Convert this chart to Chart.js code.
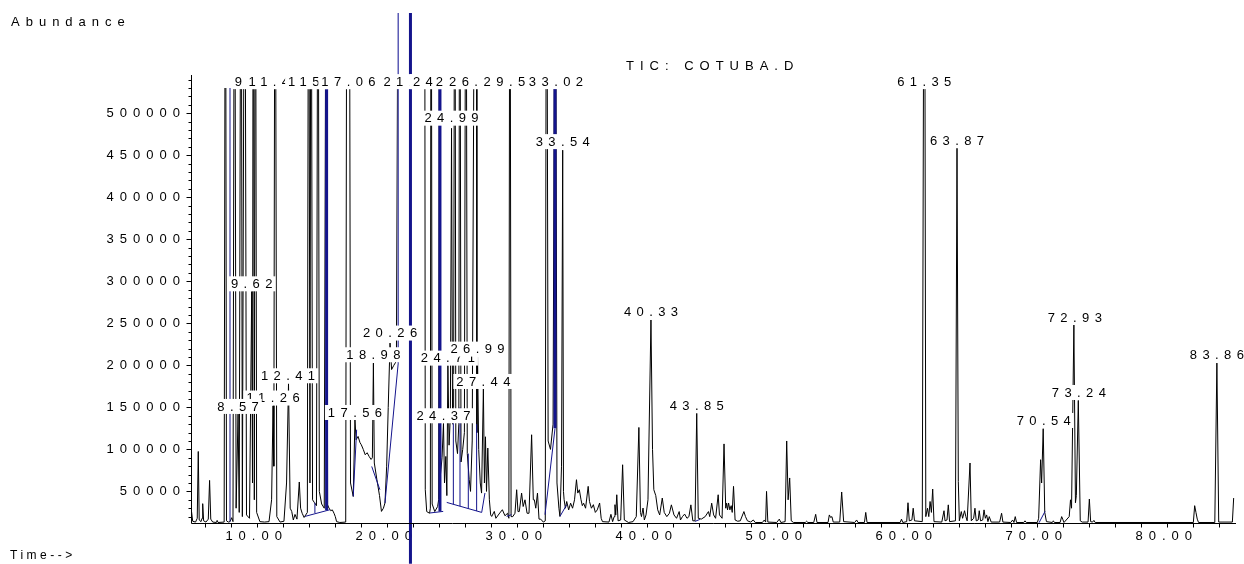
<!DOCTYPE html>
<html>
<head>
<meta charset="utf-8">
<script src="https://cdn.jsdelivr.net/npm/chart.js@4.4.1/dist/chart.umd.min.js"></script>
<style>
  html, body { margin: 0; padding: 0; background: #fff; }
</style>
</head>
<body>
<canvas id="tic" width="1244" height="564"></canvas>
<script>
// TIC trace: [retention time (min), abundance]; off-scale peaks given a rough guess
const ticTrace = [
  [4.95,20000],[4.99,26000],[5.08,14500],[5.3,13500],[5.43,18000],[5.51,97500],[5.58,16000],[5.72,14000],
  [5.8,18000],[5.85,35400],[5.92,15000],[6.1,13500],[6.28,17000],[6.38,63100],[6.47,17000],[6.62,13500],
  [6.9,13000],[6.96,15500],[7.03,13000],[7.5,13500],
  [7.6,900000],[7.68,15000],[7.82,13500],[7.95,14000],[8.08,18700],[8.18,14000],[8.3,900000],[8.42,30000],
  [8.57,142000],[8.66,25000],[8.8,900000],[8.9,20000],[9.08,900000],[9.22,22000],[9.45,18000],[9.62,288000],
  [9.68,60000],[9.74,900000],[9.82,40000],[9.9,900000],[10.0,25000],[10.25,14000],[10.6,13500],[10.95,14000],
  [11.15,40000],[11.26,152000],[11.32,80000],[11.42,900000],[11.55,20000],[11.8,13500],[12.1,14500],[12.3,60000],
  [12.45,178000],[12.58,30000],[12.7,26000],[12.82,16000],[12.95,22600],[13.1,17000],[13.28,61200],[13.38,30000],
  [13.5,24000],[13.65,19000],[13.9,25000],[14.0,900000],[14.1,60000],[14.18,900000],[14.3,40000],[14.45,36500],
  [14.6,33000],[14.72,900000],[14.82,50000],[15.0,35000],[15.2,30000],[15.36,900000],[15.46,34000],[15.56,30200],
  [15.7,27000],[15.82,28000],[15.95,24000],[16.05,20000],[16.15,14000],[16.4,13000],[16.85,13500],
  [16.95,900000],[17.12,900000],[17.22,60000],[17.43,44000],[17.56,135200],[17.65,111500],[17.8,115400],
  [17.95,108000],[18.05,105500],[18.2,100000],[18.35,93600],[18.5,96000],[18.65,91600],[18.8,88000],[18.9,90000],
  [18.98,202700],[19.05,83800],[19.25,63900],[19.45,45000],[19.6,26200],[19.75,30000],[19.87,36200],[20.0,80000],
  [20.12,150000],[20.26,226500],[20.38,195000],[20.55,200000],[20.75,205000],[20.92,900000],[21.5,1500000],
  [22.5,1200000],[22.92,900000],[22.97,52000],[23.08,26000],[23.3,24000],
  [23.36,30000],[23.42,900000],[23.5,35000],[23.7,26000],[23.92,32000],[24.0,40000],[24.06,900000],[24.14,70000],
  [24.26,90000],[24.37,131000],[24.45,60000],[24.55,91600],[24.63,45000],[24.71,200000],[24.8,105000],[24.9,140000],
  [24.99,482000],[25.07,130000],[25.15,150000],[25.24,900000],[25.32,110000],[25.45,95000],[25.55,130000],
  [25.62,900000],[25.72,85000],[25.85,100000],[25.98,120000],[26.1,900000],[26.2,95000],[26.35,64000],[26.45,50000],
  [26.58,110000],[26.8,900000],[26.9,900000],[26.94,120000],[26.99,210000],[27.08,100000],[27.2,60000],[27.3,48000],
  [27.44,172000],[27.52,60000],[27.6,115000],[27.68,50000],[27.78,101600],[27.9,40000],[28.0,22000],[28.08,20200],
  [28.28,26200],[28.4,18000],[28.7,24300],[28.9,28200],[29.1,21000],[29.3,24000],[29.4,18000],[29.48,900000],
  [29.57,20000],[29.7,20000],[29.87,24000],[30.0,52000],[30.1,26000],[30.2,26000],[30.38,48000],[30.5,32000],
  [30.64,40000],[30.8,24000],[30.95,24000],[31.15,117400],[31.28,40000],[31.36,40000],[31.47,30000],[31.6,48000],
  [31.72,17000],[31.85,17000],[32.05,13500],[32.2,15000],[32.3,900000],[32.42,110000],[32.6,100000],[32.8,130000],
  [32.97,900000],[33.1,60000],[33.25,30000],[33.33,20250],[33.45,80000],[33.54,456000],[33.6,50000],[33.65,40100],
  [33.75,30000],[33.85,38000],[34.0,28000],[34.15,36000],[34.3,30000],[34.45,40000],[34.6,63900],[34.7,48000],
  [34.82,52000],[34.95,40000],[35.05,33000],[35.15,36000],[35.3,30000],[35.5,56000],[35.6,38000],[35.75,30000],
  [35.9,34200],[36.05,25000],[36.2,28000],[36.38,36200],[36.5,18000],[36.6,14000],
  [37.1,13500],[37.25,22700],[37.38,14000],[37.5,20000],[37.56,34200],[37.62,22000],[37.7,46000],[37.8,15000],
  [38.0,16000],[38.15,81700],[38.28,16000],[38.6,13000],[38.95,14000],[39.2,20000],[39.4,126100],[39.52,25000],
  [39.6,20000],[39.72,30200],[39.82,16000],[39.95,22000],[40.1,40000],[40.33,254000],[40.45,100000],[40.55,52000],
  [40.7,45000],[40.85,28000],[41.0,22000],[41.2,42100],[41.35,25000],[41.55,20000],[41.75,24000],[41.9,34000],
  [42.1,22000],[42.3,18000],[42.5,26000],[42.6,16000],[42.75,20000],[42.92,23000],[43.1,18000],[43.25,20000],
  [43.4,34000],[43.55,15000],[43.72,15000],[43.85,143200],[43.97,18000],[44.2,17000],[44.5,20000],[44.75,26000],
  [44.85,20000],[45.0,36000],[45.15,22000],[45.3,18000],[45.5,46000],[45.6,22000],[45.8,18000],[45.95,106500],
  [46.08,30000],[46.15,36000],[46.22,28000],[46.3,36200],[46.4,28000],[46.5,33000],[46.58,25000],[46.68,56000],
  [46.8,16000],[47.0,14500],[47.2,15000],[47.48,26000],[47.6,20000],[47.75,15000],[48.0,13500],[48.2,16000],
  [48.35,13000],[48.9,13000],[49.05,16000],[49.15,13500],[49.22,50000],[49.32,13500],[50.0,13000],[50.2,17000],
  [50.32,13000],[50.65,14000],[50.77,110000],[50.88,40000],[51.0,66000],[51.12,15000],[51.3,13000],[52.2,13000],
  [52.3,14500],[52.4,13000],[52.85,13000],[53.0,22700],[53.1,13000],[53.95,13000],[54.05,22000],[54.15,19000],
  [54.25,20000],[54.35,13500],[54.85,13500],[55.0,49300],[55.15,14000],[56.0,13000],[56.15,16000],[56.25,13000],
  [56.75,13000],[56.85,25000],[56.95,13000],[59.5,13000],[59.6,17000],[59.7,13000],[60.0,14000],[60.1,36500],
  [60.2,15000],[60.4,16000],[60.5,30000],[60.6,15000],[61.2,14000],[61.3,600000],[61.4,600000],[61.47,20000],
  [61.6,30000],[61.7,20000],[61.8,38000],[61.9,25000],[62.0,52800],[62.1,14000],[62.7,13500],[62.87,27000],
  [62.95,15000],[63.1,16000],[63.2,34000],[63.3,14000],[63.75,15000],[63.87,458400],[63.97,61800],[64.05,15000],
  [64.2,26000],[64.3,18000],[64.45,27000],[64.55,20000],[64.65,15000],[64.87,83800],[64.97,15000],[65.15,18000],
  [65.25,30000],[65.35,15000],[65.5,16000],[65.58,27000],[65.68,15000],[65.85,16000],[65.95,28000],[66.05,18000],
  [66.15,22000],[66.25,14000],[66.35,20000],[66.5,13500],[67.15,13500],[67.3,24000],[67.4,13500],[68.0,13000],
  [68.15,16000],[68.25,13000],[68.35,20000],[68.45,13000],[69.0,13000],[69.1,15000],[69.2,13000],[70.05,13000],
  [70.15,18000],[70.3,87700],[70.38,60000],[70.5,124600],[70.62,25000],[70.75,14000],[71.2,13000],[71.28,15000],
  [71.36,13000],[71.8,13000],[71.92,20000],[72.0,17000],[72.1,13000],[72.5,20000],[72.6,40000],[72.68,30000],
  [72.86,248000],[72.98,36500],[73.05,45000],[73.2,158200],[73.35,15000],[73.5,13500],[73.95,13500],[74.05,40900],
  [74.15,14000],[74.3,13500],[74.4,15500],[74.5,13000],[82.05,13000],[82.15,33000],[82.25,25000],[82.35,17000],
  [82.45,13000],[83.7,13000],[83.86,202700],[84.0,13500],[85.05,13500],[85.15,42100]
];

// integration baselines (thin blue)
const baseSegs = [
  [[7.95,14000],[7.95,900000]],
  [[13.72,20250],[15.64,28200]],
  [[14.48,24300],[14.48,36500]],
  [[17.43,44000],[17.69,123400]],
  [[18.85,79700],[19.48,52000]],
  [[19.87,36200],[20.89,202700]],
  [[23.33,24300],[24.35,26200]],
  [[24.62,36900],[27.31,25000],[27.56,48100]],
  [[25.13,34600],[25.13,140000]],
  [[25.64,32400],[25.64,150000]],
  [[26.28,29600],[26.28,95000]],
  [[26.92,26700],[26.92,130000]],
  [[29.23,20250],[29.6,22300]],
  [[32.18,22300],[32.95,125000]],
  [[33.33,20250],[33.85,34200]],
  [[43.72,14300],[44.1,16700]],
  [[70.18,12700],[70.64,26200]]
];
// heavy drop lines
const baseDrops = [
  [[15.38,27500],[15.38,900000]],
  [[24.1,26000],[24.1,900000]],
  [[32.95,125000],[32.95,900000]]
];
// lines that run past the frame
const overThin = [[[20.89,202700],[20.89,619300]]];
const overThick = [[[21.83,-36000],[21.83,619300]]];

const xTicks = [10, 20, 30, 40, 50, 60, 70, 80];
const yTicks = [50000, 100000, 150000, 200000, 250000, 300000, 350000, 400000, 450000, 500000];

// peak labels (retention time, abundance where the label sits)
const labelTime = [9.92, 11.42, 14.50, 15.38, 17.06, 21.83, 24.10, 25.86, 26.88, 29.54, 33.02, 61.35,
  9.62, 11.26, 8.57, 12.41, 17.56, 18.98, 20.26, 24.37, 24.71, 26.99, 27.44, 24.99, 33.54,
  40.33, 43.85, 63.87, 70.54, 72.93, 73.24, 83.86];
const labelAbund = [537600, 537600, 537600, 537600, 537600, 537600, 537600, 537600, 537600, 537600, 537600, 537600,
  297000, 161100, 151100, 187600, 143900, 212600, 238400, 140000, 208600, 219300, 180800, 494100, 466200,
  263300, 151900, 467400, 134400, 256900, 167700, 212600];

const FONT = '"Liberation Sans", Arial, sans-serif';
const NAVY = '#14148c';

function toPts(segs) {
  const out = [];
  segs.forEach(seg => {
    seg.forEach(p => out.push({ x: p[0], y: p[1] }));
    out.push({ x: seg[seg.length - 1][0], y: null });
  });
  return out;
}

const ticDecor = {
  id: 'ticDecor',
  beforeDraw(chart) {
    chart.ctx.letterSpacing = '6px';
  },
  afterDatasetsDraw(chart) {
    const { ctx, chartArea: a, scales: { x, y } } = chart;
    ctx.save();
    ctx.letterSpacing = '0px';
    ctx.strokeStyle = '#000';
    ctx.lineWidth = 1;
    const top = Math.round(y.getPixelForValue(545000));
    const ax = Math.round(a.left) + 0.5;
    const ay = Math.round(a.bottom) + 0.5;
    ctx.beginPath();
    ctx.moveTo(ax, top);
    ctx.lineTo(ax, ay);
    ctx.lineTo(Math.round(a.right), ay);
    // y ticks every 10000
    for (let v = 20000; v <= 540000; v += 10000) {
      const py = Math.round(y.getPixelForValue(v)) + 0.5;
      const len = v % 50000 === 0 ? 5 : 3;
      ctx.moveTo(ax - len, py);
      ctx.lineTo(ax, py);
    }
    // x ticks every 2 min
    for (let t = 6; t <= 84; t += 2) {
      const px = Math.round(x.getPixelForValue(t)) + 0.5;
      ctx.moveTo(px, ay);
      ctx.lineTo(px, ay + 4);
    }
    ctx.stroke();

    // peak labels
    ctx.font = '13px ' + FONT;
    ctx.letterSpacing = '5.4px';
    ctx.textBaseline = 'middle';
    ctx.textAlign = 'left';
    labelTime.forEach((t, i) => {
      const txt = t.toFixed(2);
      const cx = x.getPixelForValue(t);
      const cy = y.getPixelForValue(labelAbund[i]);
      const w = ctx.measureText(txt).width - 5.4;
      const left = cx - w / 2;
      ctx.fillStyle = '#fff';
      ctx.fillRect(left - 3, cy - 7.5, w + 6, 15);
      ctx.fillStyle = '#000';
      ctx.fillText(txt, left, cy + 0.5);
    });

    // titles
    ctx.letterSpacing = '6px';
    ctx.fillText('Abundance', 11, 22);
    ctx.fillText('TIC: COTUBA.D', 626, 66);
    ctx.font = '12px ' + FONT;
    ctx.letterSpacing = '3.5px';
    ctx.fillText('Time-->', 10, 556);
    ctx.restore();
  }
};

new Chart(document.getElementById('tic'), {
  type: 'line',
  data: {
    datasets: [
      { data: toPts(baseSegs), borderColor: NAVY, borderWidth: 1, clip: 0, order: 1 },
      { data: toPts(baseDrops), borderColor: NAVY, borderWidth: 3, clip: 0, order: 1 },
      { data: toPts(overThin), borderColor: '#5a5ab4', borderWidth: 1.5, clip: false, order: 1 },
      { data: toPts(overThick), borderColor: NAVY, borderWidth: 3, clip: false, order: 1 },
      { data: ticTrace.map(p => ({ x: p[0], y: p[1] })), borderColor: '#000', borderWidth: 1, clip: 0, order: 5 }
    ]
  },
  options: {
    responsive: false,
    animation: false,
    devicePixelRatio: 1,
    layout: { padding: { top: 88, right: 8, left: 0, bottom: 0 } },
    elements: { point: { radius: 0 }, line: { tension: 0 } },
    plugins: { legend: { display: false }, tooltip: { enabled: false } },
    scales: {
      x: {
        type: 'linear', min: 4.95, max: 85.33,
        grid: { display: false, drawTicks: false, tickLength: 0 }, border: { display: false },
        ticks: { color: '#000', font: { family: FONT, size: 13 }, padding: 6, maxRotation: 0, autoSkip: false,
          callback: v => v.toFixed(2) },
        afterBuildTicks: s => { s.ticks = xTicks.map(v => ({ value: v })); },
        afterFit: s => { s.height = 41; }
      },
      y: {
        type: 'linear', min: 12400, max: 530000,
        grid: { display: false, drawTicks: false, tickLength: 0 }, border: { display: false },
        ticks: { color: '#000', font: { family: FONT, size: 13 }, padding: 5, callback: v => String(v) },
        afterBuildTicks: s => { s.ticks = yTicks.map(v => ({ value: v })); },
        afterFit: s => { s.width = 191; }
      }
    }
  },
  plugins: [ticDecor]
});
</script>
</body>
</html>
